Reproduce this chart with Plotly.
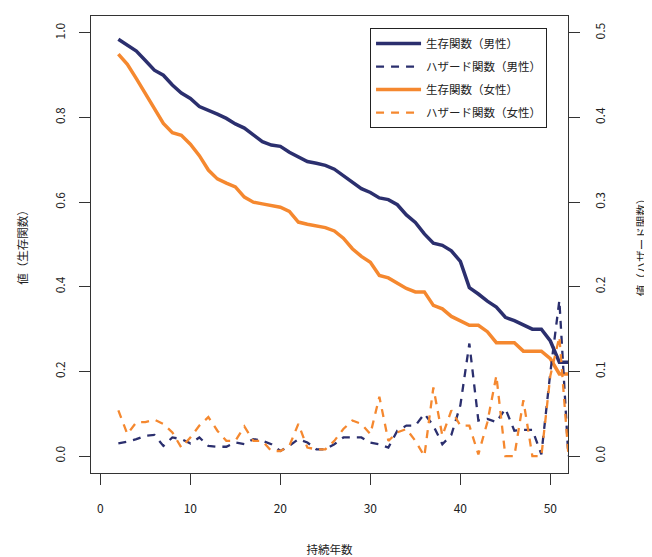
import plotly.graph_objects as go

years = list(range(2, 53))

surv_male = [0.985, 0.970, 0.957, 0.935, 0.912, 0.900, 0.877, 0.858, 0.845, 0.826,
             0.818, 0.808, 0.798, 0.785, 0.775, 0.760, 0.743, 0.735, 0.732, 0.718,
             0.708, 0.696, 0.692, 0.687, 0.678, 0.663, 0.648, 0.632, 0.623, 0.610,
             0.606, 0.594, 0.570, 0.552, 0.525, 0.503, 0.498, 0.485, 0.460, 0.398,
             0.383, 0.366, 0.352, 0.328, 0.320, 0.311, 0.300, 0.300, 0.272, 0.222,
             0.222]

haz_male = [0.015, 0.017, 0.020, 0.024, 0.025, 0.012, 0.022, 0.020, 0.015, 0.022,
            0.012, 0.011, 0.011, 0.016, 0.014, 0.020, 0.018, 0.014, 0.006, 0.012,
            0.020, 0.016, 0.008, 0.008, 0.014, 0.022, 0.022, 0.022, 0.016, 0.014,
            0.010, 0.030, 0.036, 0.036, 0.050, 0.036, 0.014, 0.025, 0.060, 0.133,
            0.042, 0.044, 0.040, 0.056, 0.030, 0.031, 0.031, 0.002, 0.099, 0.184,
            0.000]

surv_female = [0.950, 0.926, 0.892, 0.856, 0.818, 0.786, 0.764, 0.758, 0.737, 0.710,
               0.676, 0.655, 0.645, 0.636, 0.612, 0.600, 0.596, 0.592, 0.588, 0.578,
               0.553, 0.548, 0.544, 0.540, 0.532, 0.515, 0.490, 0.472, 0.458, 0.427,
               0.421, 0.408, 0.396, 0.388, 0.388, 0.356, 0.348, 0.330, 0.320, 0.309,
               0.309, 0.294, 0.268, 0.268, 0.268, 0.248, 0.248, 0.248, 0.230, 0.194,
               0.194]

haz_female = [0.054, 0.026, 0.040, 0.040, 0.043, 0.038, 0.028, 0.010, 0.022, 0.036,
              0.046, 0.030, 0.018, 0.018, 0.035, 0.018, 0.018, 0.006, 0.006, 0.012,
              0.038, 0.010, 0.008, 0.008, 0.018, 0.032, 0.042, 0.038, 0.026, 0.070,
              0.018, 0.028, 0.032, 0.018, 0.000, 0.081, 0.024, 0.054, 0.036, 0.036,
              0.002, 0.040, 0.095, 0.000, 0.000, 0.066, 0.000, 0.000, 0.095, 0.141,
              0.002]

x_ticks = [0, 10, 20, 30, 40, 50]
y_ticks = [0.0, 0.2, 0.4, 0.6, 0.8, 1.0]
y2_ticks = [0.0, 0.1, 0.2, 0.3, 0.4, 0.5]

NAVY = "#2B2F6E"
ORANGE = "#F5882F"
FONT = "Noto Sans CJK JP"

fig = go.Figure()
fig.add_trace(go.Scatter(x=years, y=surv_male, mode="lines", name="生存関数（男性）",
                         line=dict(color=NAVY, width=3.5), legendgroup="a"))
fig.add_trace(go.Scatter(x=years, y=haz_male, mode="lines", name="ハザード関数（男性）",
                         yaxis="y2", line=dict(color=NAVY, width=2.3, dash="8px,7px"),
                         legendgroup="b"))
fig.add_trace(go.Scatter(x=years, y=surv_female, mode="lines", name="生存関数（女性）",
                         line=dict(color=ORANGE, width=3.5), legendgroup="c"))
fig.add_trace(go.Scatter(x=years, y=haz_female, mode="lines", name="ハザード関数（女性）",
                         yaxis="y2", line=dict(color=ORANGE, width=2.3, dash="8px,7px"),
                         legendgroup="d"))

axis_common = dict(showgrid=False, zeroline=False, showline=True, linecolor="#333333",
                   linewidth=1, ticks="outside", ticklen=11, tickcolor="#333333",
                   tickfont=dict(family=FONT, size=12, color="#222222"))

fig.update_layout(
    width=652, height=557,
    margin=dict(l=83, r=92, t=8, b=92, autoexpand=False),
    paper_bgcolor="white", plot_bgcolor="white",
    font=dict(family=FONT, size=11, color="#222222"),
    xaxis=dict(range=[-1.04, 51.96], tickvals=x_ticks, ticktext=[str(v) for v in x_ticks],
               mirror=True, ticklabelstandoff=14,
               title=dict(text="持続年数", font=dict(family=FONT, size=11.5), standoff=30),
               **axis_common),
    yaxis=dict(range=[-0.04, 1.04], tickvals=y_ticks, ticktext=[f"{v:.1f}" for v in y_ticks],
               tickangle=-90, mirror=True, ticklabelstandoff=9,
               title=dict(text="値（生存関数）", font=dict(family=FONT, size=11.5), standoff=21),
               **axis_common),
    yaxis2=dict(range=[-0.02, 0.52], tickvals=y2_ticks, ticktext=[f"{v:.1f}" for v in y2_ticks],
                tickangle=-90, overlaying="y", side="right", ticklabelstandoff=11,
                title=dict(text="値（ハザード関数）", font=dict(family=FONT, size=11.5), standoff=30),
                **axis_common),
    legend=dict(x=0.585, y=0.9736, xanchor="left", yanchor="top",
                bordercolor="#222222", borderwidth=1, bgcolor="white",
                font=dict(family=FONT, size=11.5), tracegroupgap=4,
                traceorder="grouped", itemwidth=45),
    showlegend=True,
)

fig.write_html("out.html")
